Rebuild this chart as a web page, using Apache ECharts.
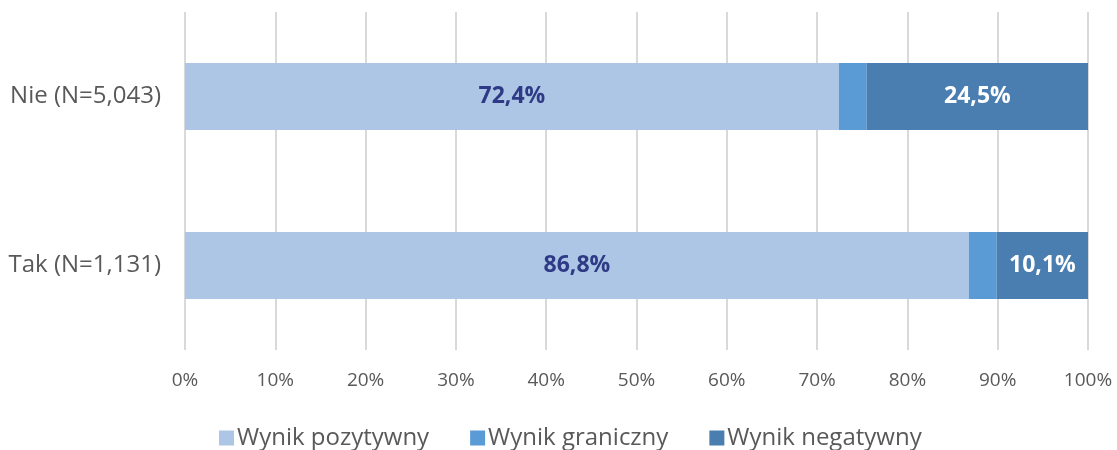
<!DOCTYPE html>
<html>
<head>
<meta charset="utf-8">
<script src="https://cdn.jsdelivr.net/npm/echarts@6/dist/echarts.min.js"></script>
<style>
html,body{margin:0;padding:0;background:#fff;}
#chart{width:1117px;height:450px;}
</style>
</head>
<body>
<div id="chart"></div>
<script>
var categories = ['Tak (N=1,131)', 'Nie (N=5,043)'];
var seriesNames = ['Wynik pozytywny', 'Wynik graniczny', 'Wynik negatywny'];
var positive = [86.8, 72.4];
var borderline = [3.1, 3.1];
var negative = [10.1, 24.5];
var xTicks = [0, 10, 20, 30, 40, 50, 60, 70, 80, 90, 100];

drawChart();

//wykres
function drawChart(){
    var chart = echarts.init(document.getElementById('chart'));
    var font = '"Open Sans", sans-serif';
    function fmt(p){ return p.value.toFixed(1).replace('.', ',') + '%'; }
    var option = {
        animation: false,
        textStyle: {fontFamily: font},
        color: ['#adc6e5', '#5b9bd5', '#4a7eb0'],
        grid: {left: 185, right: 29, top: 12, bottom: 100},
        legend: {
            top: 421,
            left: 214,
            itemWidth: 15,
            itemHeight: 15,
            itemGap: 41,
            icon: 'rect',
            textStyle: {fontSize: 24, color: '#595959', fontFamily: font, padding: [0, 0, 0, -2]},
            data: seriesNames
        },
        xAxis: {
            type: 'value',
            min: xTicks[0],
            max: xTicks[xTicks.length - 1],
            interval: 10,
            axisLine: {show: false},
            axisTick: {show: false},
            axisLabel: {fontSize: 19, color: '#595959', margin: 21, formatter: '{value}%'},
            splitLine: {lineStyle: {color: '#d9d9d9', width: 2}}
        },
        yAxis: {
            type: 'category',
            data: categories,
            axisLine: {show: false},
            axisTick: {show: false},
            axisLabel: {fontSize: 24, color: '#595959', margin: 24}
        },
        series: [
            {
                name: seriesNames[0], type: 'bar', stack: 'a', barWidth: 67,
                data: positive,
                label: {show: true, position: 'inside', fontSize: 23, fontWeight: 'bold', color: '#2f3a86', formatter: fmt}
            },
            {
                name: seriesNames[1], type: 'bar', stack: 'a', barWidth: 67,
                data: borderline
            },
            {
                name: seriesNames[2], type: 'bar', stack: 'a', barWidth: 67,
                data: negative,
                label: {show: true, position: 'inside', fontSize: 23, fontWeight: 'bold', color: '#ffffff', formatter: fmt}
            }
        ]
    };
    chart.setOption(option);
}
</script>
</body>
</html>
